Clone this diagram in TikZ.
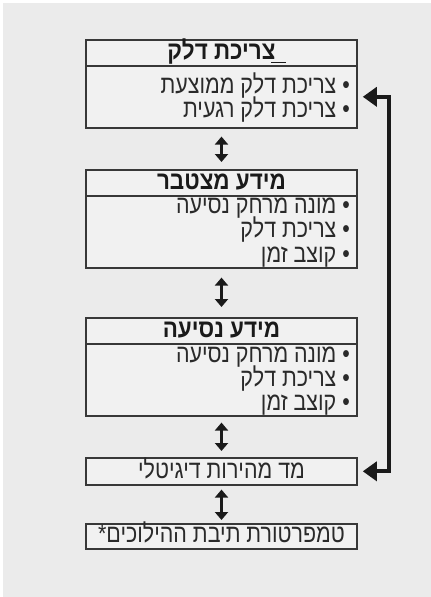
\documentclass[tikz,border=0pt]{standalone}
\usepackage{fontspec}
\usetikzlibrary{arrows.meta}
\TeXXeTstate=1
\newfontfamily\heb[Script=Hebrew,FakeStretch=0.84]{Liberation Sans}
\newfontfamily\hebb[Script=Hebrew,FakeStretch=0.88]{Liberation Sans}
\definecolor{bg}{HTML}{EBEBEB}
\definecolor{boxfill}{HTML}{F1F1F1}
\definecolor{frame}{HTML}{383838}
\definecolor{ink}{HTML}{1A1A1A}
\definecolor{itemink}{HTML}{2A2A2A}
\tikzset{
  boxpart/.style={draw=frame, line width=1.6pt, fill=boxfill, rectangle, inner sep=0pt,
    minimum width=271pt, anchor=north},
  headtxt/.style={anchor=base, inner sep=0pt, text=ink, font=\hebb\bfseries\fontsize{25.5}{28}\selectfont},
  itemtxt/.style={anchor=base east, inner sep=0pt, text=itemink, font=\heb\fontsize{25.5}{28}\selectfont},
  midtxt/.style={anchor=base, inner sep=0pt, text=itemink, font=\heb\fontsize{25.5}{28}\selectfont},
  linkarrow/.style={draw=ink, line width=3pt, {Triangle[width=13pt,length=8pt]}-{Triangle[width=13pt,length=8pt]}},
  sidearrow/.style={draw=ink, line width=4pt, {Triangle[width=19pt,length=14pt]}-{Triangle[width=19pt,length=14pt]}}
}
\begin{document}
\begin{tikzpicture}[x=1pt,y=-1pt]
\useasboundingbox (0,0) rectangle (431,597);
\fill[white] (0,0) rectangle (431,597);
\fill[bg] (3,3) rectangle (431,597);

% box 1
\node[boxpart, minimum height=26pt] (head1) at (221.5,39) {};
\node[boxpart, minimum height=62pt] (body1) at (221.5,65) {};
\node[headtxt] (h1t) at (221.5,59.5) {\beginR צריכת דלק\endR};
\draw[ink, line width=0.8pt] (271,62.5) -- (286,62.5);
\node[itemtxt] (i11) at (350,93) {\beginR • צריכת דלק ממוצעת\endR};
\node[itemtxt] (i12) at (350,117) {\beginR • צריכת דלק רגעית\endR};

% box 2
\node[boxpart, minimum height=26pt] (head2) at (221.5,169) {};
\node[boxpart, minimum height=72pt] (body2) at (221.5,195) {};
\node[headtxt] (h2t) at (221.5,189.5) {\beginR מידע מצטבר\endR};
\node[itemtxt] (i21) at (350,213) {\beginR • מונה מרחק נסיעה\endR};
\node[itemtxt] (i22) at (350,237.5) {\beginR • צריכת דלק\endR};
\node[itemtxt] (i23) at (350,262) {\beginR • קוצב זמן\endR};

% box 3
\node[boxpart, minimum height=26pt] (head3) at (221.5,317) {};
\node[boxpart, minimum height=72pt] (body3) at (221.5,343) {};
\node[headtxt] (h3t) at (221.5,337.5) {\beginR מידע נסיעה\endR};
\node[itemtxt] (i31) at (350,362) {\beginR • מונה מרחק נסיעה\endR};
\node[itemtxt] (i32) at (350,386) {\beginR • צריכת דלק\endR};
\node[itemtxt] (i33) at (350,410) {\beginR • קוצב זמן\endR};

% box 4
\node[boxpart, minimum height=27pt] (sp) at (221.5,457) {};
\node[midtxt] (spt) at (221.5,478) {\beginR מד מהירות דיגיטלי\endR};

% box 5
\node[boxpart, minimum height=25pt] (tmp) at (221.5,523) {};
\node[midtxt] (tmpt) at (221.5,542) {\beginR טמפרטורת תיבת ההילוכים*\endR};

% connectors
\draw[linkarrow, shorten <=8pt, shorten >=7pt] (body1.south) -- (head2.north);
\draw[linkarrow, shorten <=9pt, shorten >=10pt] (body2.south) -- (head3.north);
\draw[linkarrow, shorten <=6pt, shorten >=6pt] (body3.south) -- (sp.north);
\draw[linkarrow, shorten <=4pt, shorten >=3pt] (sp.south) -- (tmp.north);
\draw[sidearrow, shorten <=5pt, shorten >=5pt] (body1.east) -| ([xshift=31pt]sp.east) -- (sp.east);
\end{tikzpicture}
\end{document}
